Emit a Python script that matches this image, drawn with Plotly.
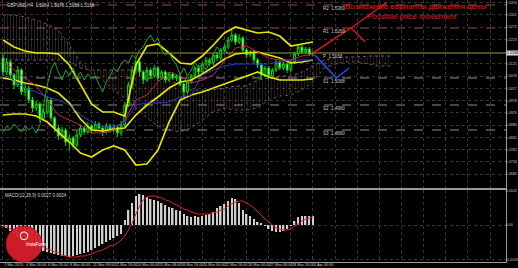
import numpy as np
import plotly.graph_objects as go

# ---------------- data ----------------
symbol = "GBPUSD,H4"
first_open = 1.5148
closes = [1.5092, 1.5132, 1.5080, 1.5040, 1.5100, 1.5012, 1.5028, 1.4980, 1.4948, 1.4964,
          1.4908, 1.4932, 1.4980, 1.4908, 1.4868, 1.4836, 1.4860, 1.4812, 1.4828, 1.4800,
          1.4840, 1.4868, 1.4852, 1.4876, 1.4860, 1.4884, 1.4868, 1.4852, 1.4876, 1.4860,
          1.4872, 1.4848, 1.4880, 1.4960, 1.5040, 1.5100, 1.5132, 1.5092, 1.5060, 1.5100,
          1.5076, 1.5108, 1.5068, 1.5092, 1.5060, 1.5084, 1.5068, 1.5076, 1.5044, 1.5012,
          1.5052, 1.5076, 1.5108, 1.5092, 1.5124, 1.5140, 1.5128, 1.5160, 1.5148, 1.5180,
          1.5192, 1.5220, 1.5240, 1.5212, 1.5228, 1.5180, 1.5160, 1.5172, 1.5140, 1.5120,
          1.5080, 1.5108, 1.5076, 1.5100, 1.5132, 1.5108, 1.5124, 1.5100, 1.5132, 1.5164,
          1.5192, 1.5172, 1.5184, 1.5164, 1.5168]
highs = [1.5164, 1.5148, 1.5140, 1.5088, 1.5116, 1.5108, 1.5044, 1.5036, 1.4992, 1.4976,
         1.4972, 1.4948, 1.4996, 1.4988, 1.4916, 1.4880, 1.4872, 1.4868, 1.4840, 1.4836,
         1.4856, 1.4880, 1.4876, 1.4892, 1.4884, 1.4896, 1.4892, 1.4876, 1.4888, 1.4884,
         1.4884, 1.4880, 1.4896, 1.4972, 1.5052, 1.5116, 1.5152, 1.5144, 1.5100, 1.5112,
         1.5108, 1.5120, 1.5116, 1.5100, 1.5100, 1.5092, 1.5092, 1.5084, 1.5080, 1.5052,
         1.5060, 1.5084, 1.5116, 1.5120, 1.5132, 1.5152, 1.5148, 1.5168, 1.5172, 1.5188,
         1.5204, 1.5232, 1.5260, 1.5248, 1.5244, 1.5236, 1.5188, 1.5180, 1.5180, 1.5148,
         1.5128, 1.5116, 1.5116, 1.5108, 1.5140, 1.5140, 1.5132, 1.5132, 1.5140, 1.5172,
         1.5204, 1.5200, 1.5192, 1.5192, 1.5176]
lows = [1.5076, 1.5080, 1.5064, 1.5024, 1.5032, 1.5000, 1.4996, 1.4968, 1.4932, 1.4936,
        1.4892, 1.4896, 1.4924, 1.4896, 1.4852, 1.4820, 1.4824, 1.4796, 1.4780, 1.4788,
        1.4792, 1.4832, 1.4840, 1.4844, 1.4848, 1.4852, 1.4856, 1.4836, 1.4844, 1.4848,
        1.4852, 1.4832, 1.4836, 1.4872, 1.4952, 1.5028, 1.5088, 1.5076, 1.5044, 1.5052,
        1.5064, 1.5068, 1.5056, 1.5060, 1.5048, 1.5052, 1.5060, 1.5056, 1.5036, 1.4992,
        1.5004, 1.5044, 1.5068, 1.5080, 1.5084, 1.5116, 1.5116, 1.5120, 1.5136, 1.5140,
        1.5172, 1.5184, 1.5212, 1.5200, 1.5204, 1.5172, 1.5148, 1.5152, 1.5128, 1.5108,
        1.5064, 1.5072, 1.5064, 1.5068, 1.5092, 1.5100, 1.5100, 1.5088, 1.5092, 1.5124,
        1.5156, 1.5164, 1.5164, 1.5156, 1.5156]

# indicator lines, read every 3rd bar
ind_x = list(range(0, 85, 3))
bb_upper = [1.5220, 1.5192, 1.5176, 1.5168, 1.5168, 1.5164, 1.5120, 1.5040, 1.4964, 1.4932,
            1.4932, 1.4916, 1.5120, 1.5196, 1.5204, 1.5168, 1.5128, 1.5124, 1.5156, 1.5200,
            1.5248, 1.5272, 1.5260, 1.5248, 1.5252, 1.5236, 1.5196, 1.5204, 1.5212]
bb_middle = [1.5068, 1.5060, 1.5048, 1.5040, 1.5028, 1.5008, 1.4968, 1.4904, 1.4860, 1.4856,
             1.4864, 1.4868, 1.4920, 1.4960, 1.4992, 1.5028, 1.5052, 1.5060, 1.5084, 1.5112,
             1.5144, 1.5164, 1.5168, 1.5172, 1.5160, 1.5148, 1.5128, 1.5132, 1.5140]
bb_lower = [1.4920, 1.4924, 1.4924, 1.4916, 1.4892, 1.4852, 1.4812, 1.4768, 1.4752, 1.4780,
            1.4796, 1.4780, 1.4720, 1.4724, 1.4780, 1.4892, 1.4980, 1.5000, 1.5012, 1.5028,
            1.5044, 1.5060, 1.5076, 1.5092, 1.5072, 1.5060, 1.5060, 1.5060, 1.5064]
tenkan = [1.5132, 1.5100, 1.5068, 1.5036, 1.4980, 1.4920, 1.4900, 1.4880, 1.4848, 1.4848,
          1.4860, 1.4900, 1.4980, 1.5000, 1.5052, 1.5092, 1.5076, 1.5048, 1.5060, 1.5080,
          1.5136, 1.5188, 1.5196, 1.5172, 1.5148, 1.5140, 1.5140, 1.5156, 1.5164]
kijun = [1.5080, 1.5060, 1.5028, 1.5012, 1.4992, 1.4980, 1.4960, 1.4920, 1.4892, 1.4872,
         1.4872, 1.4892, 1.4960, 1.4968, 1.4968, 1.4972, 1.4992, 1.5000, 1.5080, 1.5100,
         1.5116, 1.5124, 1.5124, 1.5124, 1.5124, 1.5132, 1.5140, 1.5140, 1.5140]
chikou_shift = 22

# ichimoku cloud (projected forward), every 3rd bar
cloud_x = list(range(0, 106, 3))
span_a = [1.5320, 1.5320, 1.5312, 1.5300, 1.5284, 1.5260, 1.5200, 1.5132, 1.5092, 1.5060,
          1.5020, 1.4988, 1.4948, 1.4908, 1.4876, 1.4860, 1.4852, 1.4868, 1.4900, 1.4932,
          1.4948, 1.4940, 1.4940, 1.4948, 1.4980, 1.4996, 1.5000, 1.5020, 1.5052, 1.5108,
          1.5124, 1.5132, 1.5132, 1.5124, 1.5116, 1.5116]
span_b = [1.5140, 1.5140, 1.5140, 1.5140, 1.5140, 1.5140, 1.5132, 1.5108, 1.5100, 1.5100,
          1.5100, 1.5100, 1.5100, 1.5092, 1.5080, 1.5060, 1.5040, 1.5020, 1.5020, 1.5020,
          1.5028, 1.5036, 1.5036, 1.5060, 1.5068, 1.5076, 1.5076, 1.5092, 1.5116, 1.5140,
          1.5148, 1.5152, 1.5152, 1.5156, 1.5156, 1.5156]

# MACD (12,26,9)
macd_main = [-0.0003, -0.0009, -0.0018, -0.0027, -0.0036, -0.0045, -0.0051, -0.0057, -0.0063, -0.0069,
             -0.0075, -0.0078, -0.0081, -0.0084, -0.0087, -0.0090, -0.0093, -0.0093, -0.0096, -0.0093,
             -0.0090, -0.0087, -0.0084, -0.0081, -0.0075, -0.0069, -0.0063, -0.0057, -0.0051, -0.0045,
             -0.0039, -0.0033, -0.0027, 0.0015, 0.0045, 0.0066, 0.0087, 0.0093, 0.0090, 0.0084,
             0.0078, 0.0075, 0.0072, 0.0066, 0.0060, 0.0054, 0.0051, 0.0045, 0.0042, 0.0033,
             0.0027, 0.0024, 0.0027, 0.0024, 0.0027, 0.0030, 0.0033, 0.0039, 0.0051, 0.0057,
             0.0063, 0.0072, 0.0081, 0.0078, 0.0066, 0.0045, 0.0033, 0.0027, 0.0018, 0.0009,
             0.0006, -0.0003, -0.0012, -0.0018, -0.0021, -0.0021, -0.0018, -0.0012, -0.0003, 0.0012,
             0.0024, 0.0027, 0.0027, 0.0027, 0.0027]
macd_signal = [-0.0003, -0.0006, -0.0012, -0.0018, -0.0024, -0.0030, -0.0036, -0.0042, -0.0048, -0.0054,
               -0.0060, -0.0066, -0.0072, -0.0075, -0.0081, -0.0084, -0.0090, -0.0093, -0.0096, -0.0096,
               -0.0096, -0.0093, -0.0093, -0.0090, -0.0087, -0.0081, -0.0078, -0.0075, -0.0069, -0.0063,
               -0.0060, -0.0054, -0.0045, -0.0033, -0.0015, 0.0006, 0.0033, 0.0057, 0.0075, 0.0084,
               0.0087, 0.0087, 0.0084, 0.0081, 0.0075, 0.0072, 0.0066, 0.0060, 0.0054, 0.0048,
               0.0045, 0.0039, 0.0036, 0.0033, 0.0033, 0.0033, 0.0033, 0.0036, 0.0039, 0.0045,
               0.0048, 0.0057, 0.0063, 0.0069, 0.0072, 0.0072, 0.0066, 0.0060, 0.0051, 0.0039,
               0.0030, 0.0018, 0.0009, 0.0000, -0.0009, -0.0012, -0.0015, -0.0015, -0.0012, -0.0003,
               0.0003, 0.0012, 0.0018, 0.0021, 0.0024]

# pivot levels
pivot_names = ["R2", "R1", "P", "S1", "S2", "S3"]
pivot_values = [1.5360, 1.5268, 1.5168, 1.5068, 1.4960, 1.4860]

# possible price movement (forecast)
fc_up_x = [84, 94.3, 104.0]
fc_up_y = [1.5168, 1.5268, 1.5370]
fc_up_branch_x = [94.3, 98.2]
fc_up_branch_y = [1.5268, 1.5212]
fc_down_x = [84.5, 90.3, 93.8]
fc_down_y = [1.5160, 1.5068, 1.5108]

# axis ticks / labels
price_ticks = [1.4684, 1.4733, 1.4782, 1.4831, 1.4880, 1.4929, 1.4978, 1.5027,
               1.5076, 1.5125, 1.5223, 1.5272, 1.5321, 1.5370]
macd_ticks = [-0.0103, 0.0, 0.0102]
macd_tick_text = ["-0.0103", "0.00", "0.0102"]
date_labels = ["1 Mar 2013", "4 Mar 16:00", "6 Mar 16:00", "8 Mar 00:00", "11 Mar 08:00",
               "12 Mar 16:00", "14 Mar 00:00", "15 Mar 08:00", "18 Mar 16:00", "20 Mar 00:00",
               "22 Mar 16:00", "26 Mar 00:00", "27 Mar 08:00", "28 Mar 16:00", "1 Apr 00:00"]
title_ru = "Возможные варианты движения цены"
title_en = "Possible price movement"

# ---------------- figure ----------------
FONT = "Liberation Sans, Arial, sans-serif"
TXT = "#c8c8c8"
GRID = "#363636"
FRAME = "#9a9a9a"

n = len(closes)
bars = list(range(n))
opens = [first_open] + closes[:-1]
label_bars = list(range(0, 6 * len(date_labels), 6))
grid_bars = list(range(0, 138, 6))

fig = go.Figure()

# Ichimoku cloud, hatched, split by which span is on top
polys = {True: ([], []), False: ([], [])}
for k in range(len(cloud_x) - 1):
    x0, x1 = cloud_x[k], cloud_x[k + 1]
    a0, a1 = span_a[k], span_a[k + 1]
    b0, b1 = span_b[k], span_b[k + 1]
    d0, d1 = a0 - b0, a1 - b1
    if d0 * d1 < 0:
        t = d0 / (d0 - d1)
        xm = x0 + t * (x1 - x0)
        ym = a0 + t * (a1 - a0)
        segs = [((x0, a0, b0), (xm, ym, ym), d0 > 0), ((xm, ym, ym), (x1, a1, b1), d1 > 0)]
    else:
        segs = [((x0, a0, b0), (x1, a1, b1), (d0 + d1) > 0)]
    for (xa, aa, ba), (xb, ab, bb), up in segs:
        X, Y = polys[up]
        X += [xa, xb, xb, xa, xa, None]
        Y += [aa, ab, bb, ba, aa, None]

for up, col in [(True, "rgba(190,190,190,0.55)"), (False, "rgba(170,130,100,0.55)")]:
    X, Y = polys[up]
    fig.add_trace(go.Scatter(
        x=X, y=Y, mode="lines", fill="toself", line=dict(width=0),
        fillcolor="rgba(0,0,0,0)",
        fillpattern=dict(shape="|", fgcolor=col, bgcolor="rgba(0,0,0,0)", size=3, solidity=0.25),
        hoverinfo="skip", xaxis="x", yaxis="y"))
fig.add_trace(go.Scatter(x=cloud_x, y=span_a, mode="lines",
                         line=dict(color="#8a6848", width=0.8, dash="dot"), xaxis="x", yaxis="y"))
fig.add_trace(go.Scatter(x=cloud_x, y=span_b, mode="lines",
                         line=dict(color="#8a7a8a", width=0.8, dash="dot"), xaxis="x", yaxis="y"))

# Bollinger bands
for band in (bb_upper, bb_middle, bb_lower):
    fig.add_trace(go.Scatter(x=ind_x, y=band, mode="lines",
                             line=dict(color="#e4e400", width=1.7), xaxis="x", yaxis="y"))

# Ichimoku lines
fig.add_trace(go.Scatter(x=ind_x, y=kijun, mode="lines",
                         line=dict(color="#2a3ad8", width=1), xaxis="x", yaxis="y"))
fig.add_trace(go.Scatter(x=ind_x, y=tenkan, mode="lines",
                         line=dict(color="#c8205a", width=1), xaxis="x", yaxis="y"))
fig.add_trace(go.Scatter(x=bars[:n - chikou_shift], y=closes[chikou_shift:], mode="lines",
                         line=dict(color="#1fa51f", width=1), xaxis="x", yaxis="y"))

# candles
fig.add_trace(go.Candlestick(
    x=bars, open=opens, high=highs, low=lows, close=closes,
    increasing=dict(line=dict(color="#00e000", width=1), fillcolor="#000000"),
    decreasing=dict(line=dict(color="#00e000", width=1), fillcolor="#dcffdc"),
    whiskerwidth=0, xaxis="x", yaxis="y", hoverinfo="skip"))

# forecast lines
fig.add_trace(go.Scatter(x=fc_up_x, y=fc_up_y, mode="lines",
                         line=dict(color="#d41818", width=1.5), xaxis="x", yaxis="y"))
fig.add_trace(go.Scatter(x=fc_up_branch_x, y=fc_up_branch_y, mode="lines",
                         line=dict(color="#d41818", width=1.5), xaxis="x", yaxis="y"))
fig.add_trace(go.Scatter(x=fc_down_x, y=fc_down_y, mode="lines",
                         line=dict(color="#2850ff", width=1.5), xaxis="x", yaxis="y"))

# MACD
fig.add_trace(go.Bar(x=bars, y=macd_main, width=0.42, marker=dict(color="#cfcfcf", line=dict(width=0)),
                     xaxis="x2", yaxis="y2"))
fig.add_trace(go.Scatter(x=bars, y=macd_signal, mode="lines",
                         line=dict(color="#e02020", width=1), xaxis="x2", yaxis="y2"))

xr = [-0.81, 136.3]
common_x = dict(range=xr, tickvals=grid_bars, showticklabels=False, ticks="",
                showgrid=True, gridcolor=GRID, griddash="dot", gridwidth=1, zeroline=False,
                showline=True, mirror=True, linecolor=FRAME, linewidth=1, fixedrange=True)
ytick_font = dict(size=3.6, color=TXT, family=FONT)
fig.update_layout(
    width=518, height=268, margin=dict(l=0, r=12, t=0, b=6),
    paper_bgcolor="#000000", plot_bgcolor="#000000", showlegend=False,
    font=dict(family=FONT, color=TXT),
    xaxis=dict(domain=[0, 1], anchor="y", rangeslider=dict(visible=False), **common_x),
    xaxis2=dict(domain=[0, 1], anchor="y2", **common_x),
    yaxis=dict(domain=[0.2824, 1], range=[1.4628, 1.5380], side="right",
               tickvals=price_ticks, ticktext=[f"{v:.4f}" for v in price_ticks],
               tickfont=ytick_font, ticks="", ticklabelstandoff=-2,
               showgrid=True, gridcolor=GRID, griddash="dot", zeroline=False,
               showline=True, linecolor=FRAME, automargin=False, fixedrange=True),
    yaxis2=dict(domain=[0, 0.2748], range=[-0.0111, 0.0105], side="right",
                tickvals=macd_ticks, ticktext=macd_tick_text,
                tickfont=ytick_font, ticks="", ticklabelstandoff=-2,
                showgrid=True, gridcolor=GRID, griddash="dot", zeroline=False,
                showline=True, linecolor=FRAME, automargin=False, fixedrange=True),
)

# pivot levels
for name, val in zip(pivot_names, pivot_values):
    if name.startswith("R"):
        style = dict(color="#a8482a", width=1, dash="dash")
    elif name == "P":
        style = dict(color="#9c9c34", width=1)
    else:
        style = dict(color="#8c8c8c", width=1, dash="dash")
    fig.add_shape(type="line", xref="x domain", yref="y", x0=0, x1=1, y0=val, y1=val, line=style, layer="below")
    fig.add_annotation(x=86.3, y=val, xref="x", yref="y", xanchor="left", yanchor="middle", yshift=-3,
                       text=f"{name}  {val:.4f}", showarrow=False,
                       font=dict(size=4.5, color=TXT, family=FONT))

# current price box
fig.add_annotation(x=1, y=closes[-1], xref="paper", yref="y", xanchor="left", yanchor="middle",
                   text=f"{closes[-1]:.4f}", showarrow=False, bgcolor="#d8d8d8", borderpad=0,
                   font=dict(size=3.6, color="#000000", family=FONT))

# headers
fig.add_annotation(x=0.01, y=1, xref="paper", yref="paper", xanchor="left", yanchor="top",
                   text=f"{symbol}  {opens[-1]:.4f} {highs[-1]:.4f} {lows[-1]:.4f} {closes[-1]:.4f}",
                   showarrow=False, font=dict(size=4.5, color="#d8d8d8", family=FONT), yshift=-1)
fig.add_annotation(x=0.005, y=0.2748, xref="paper", yref="paper", xanchor="left", yanchor="top",
                   text=f"MACD(12,26,9) {macd_main[-1]:.4f} {macd_signal[-1]:.4f}",
                   showarrow=False, font=dict(size=4.5, color="#d8d8d8", family=FONT), yshift=-1)

# forecast caption
fig.add_annotation(x=111.7, y=1.5354, xref="x", yref="y", text=title_ru, showarrow=False,
                   font=dict(size=8, color="#e01a1a", family=FONT))
fig.add_annotation(x=110.8, y=1.5314, xref="x", yref="y", text=title_en, showarrow=False,
                   font=dict(size=8, color="#e01a1a", family=FONT))

# time labels
for b, lab in zip(label_bars, date_labels):
    fig.add_annotation(x=b, y=0, xref="x2", yref="paper", xanchor="left", yanchor="top",
                       text=lab, showarrow=False, xshift=-1, yshift=1,
                       font=dict(size=3.8, color=TXT, family=FONT))

# logo
fig.add_shape(type="circle", xref="paper", yref="paper", x0=0.012, x1=0.083, y0=0.0, y1=0.137,
              fillcolor="#d81e2a", line=dict(color="#b01020", width=1), opacity=0.95)
fig.add_shape(type="circle", xref="paper", yref="paper", x0=0.040, x1=0.055, y0=0.085, y1=0.115,
              fillcolor="rgba(0,0,0,0)", line=dict(color="#ffffff", width=1))
fig.add_annotation(x=0.0475, y=0.05, xref="paper", yref="paper", text="InstaForex", showarrow=False,
                   font=dict(size=4.5, color="#ffffff", family=FONT))

fig.write_html("out.html")
